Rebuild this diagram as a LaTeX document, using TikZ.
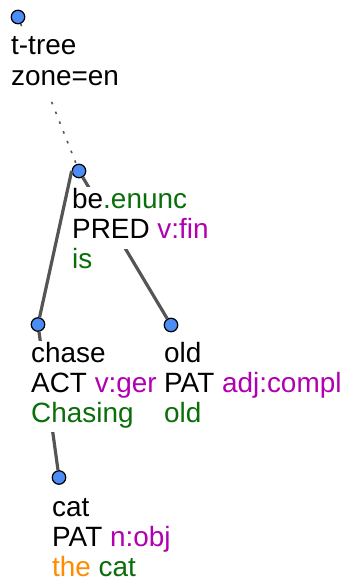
\documentclass[tikz,border=0pt]{standalone}
\usepackage{fontspec}
\setmainfont{Liberation Sans}
\definecolor{nodeblue}{RGB}{76,140,245}
\definecolor{edgegray}{RGB}{85,85,85}
\definecolor{lemgreen}{RGB}{10,110,10}
\definecolor{fmag}{RGB}{176,0,176}
\definecolor{aorange}{RGB}{255,140,0}
\tikzset{
  tnode/.style={circle, draw=black, line width=1.2pt, fill=nodeblue, minimum size=13.5pt, inner sep=0pt},
  tedge/.style={draw=edgegray, line width=3.2pt},
  rootedge/.style={draw=edgegray, line width=1.6pt, dash pattern=on 2.5pt off 8pt},
  txt/.style={anchor=base west, fill=white, inner sep=1pt, text height=21pt, text depth=9pt,
              font=\fontsize{27.9}{30}\selectfont}
}
\begin{document}
\begin{tikzpicture}[x=1pt, y=-1pt]
\useasboundingbox (0,0) rectangle (350,586);
% tree nodes
\node[tnode] (root) at (18,17) {};
\node[tnode] (be) at (79,171) {};
\node[tnode] (chase) at (38,324.5) {};
\node[tnode] (old) at (171,325) {};
\node[tnode] (cat) at (59,477.5) {};
% edges
\draw[rootedge] (root) -- (be);
\draw[tedge] (be.west) -- (chase);
\draw[tedge] (be) -- (old);
\draw[tedge] (chase) -- (cat);
% labels
\node[txt] (rootA) at (10,55) {t-tree};
\node[txt] (rootB) at (10,85) {zone=en};
\node[txt] (beA) at (71,208.5) {be\textcolor{lemgreen}{.enunc}};
\node[txt] (beB) at (71,238.5) {PRED \textcolor{fmag}{v:fin}};
\node[txt] (beC) at (71,268) {\textcolor{lemgreen}{is}};
\node[txt] (chaseA) at (30,362.5) {chase};
\node[txt] (chaseB) at (30,392.5) {ACT \textcolor{fmag}{v:ger}};
\node[txt] (chaseC) at (30,422) {\textcolor{lemgreen}{Chasing}};
\node[txt] (oldA) at (163,362.5) {old};
\node[txt] (oldB) at (163,392.5) {PAT \textcolor{fmag}{adj:compl}};
\node[txt] (oldC) at (163,422) {\textcolor{lemgreen}{old}};
\node[txt] (catA) at (51,516.5) {cat};
\node[txt] (catB) at (51,546.5) {PAT \textcolor{fmag}{n:obj}};
\node[txt] (catC) at (51,576) {\textcolor{aorange}{the} \textcolor{lemgreen}{cat}};
\end{tikzpicture}
\end{document}
